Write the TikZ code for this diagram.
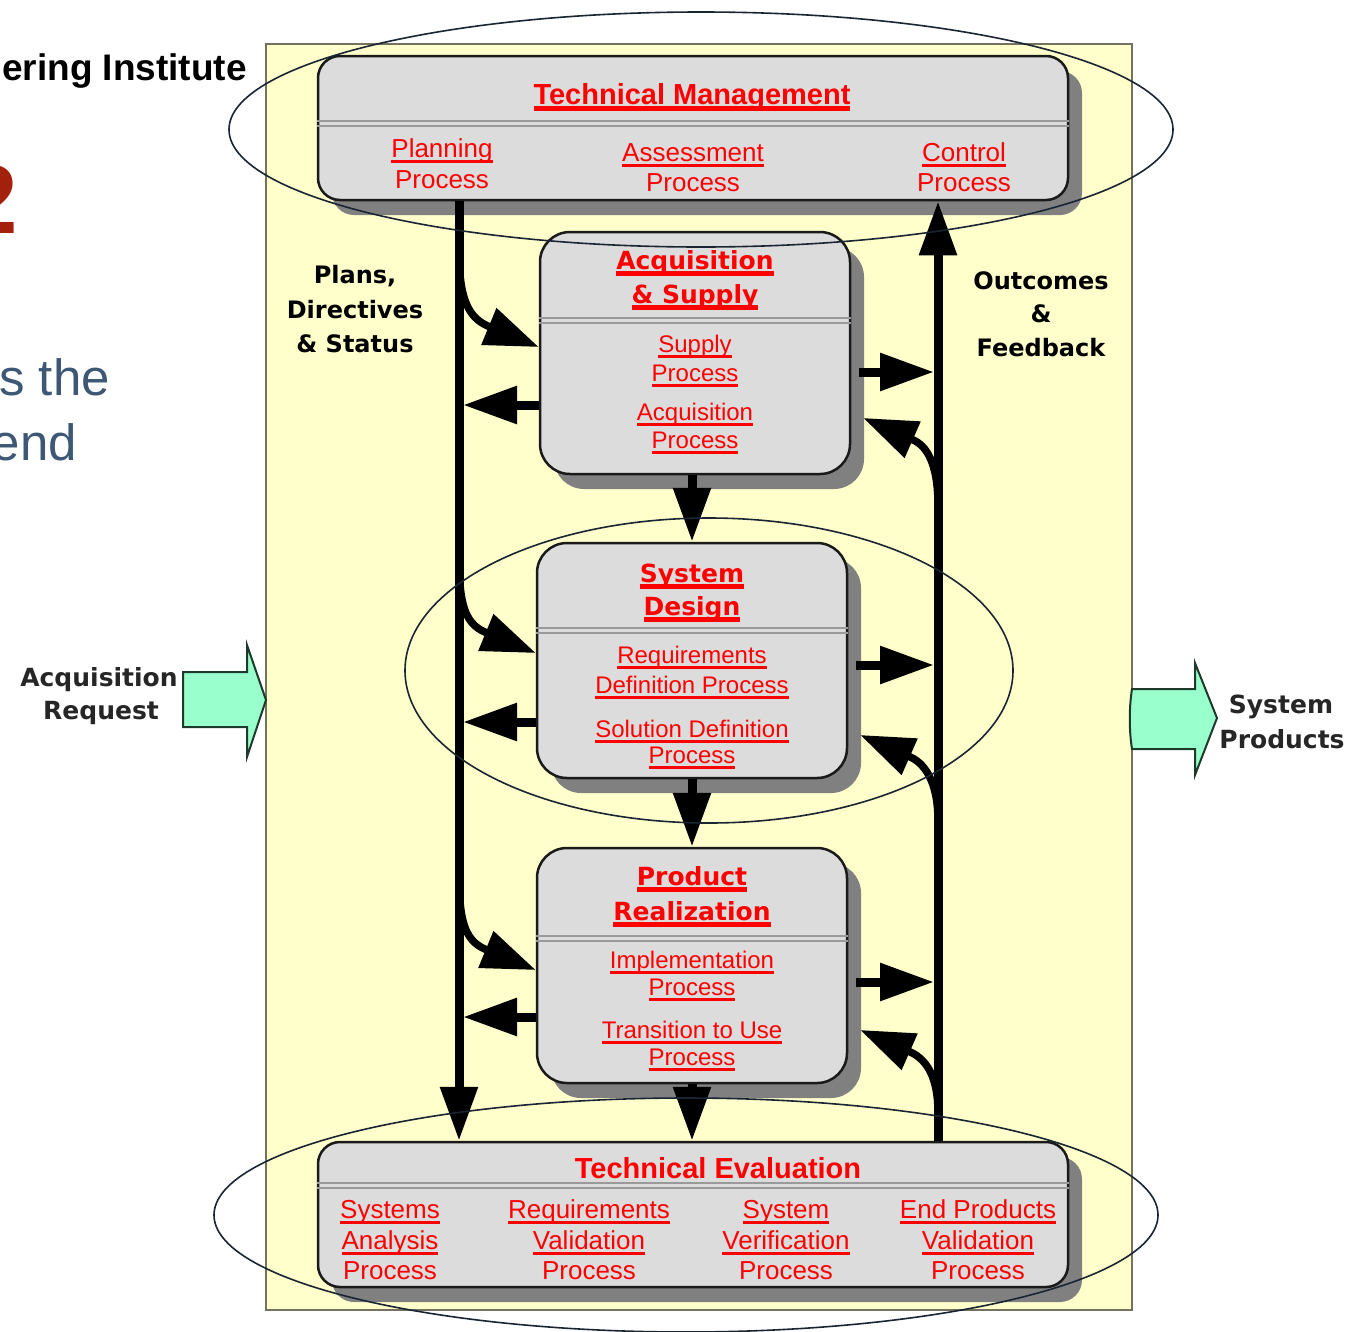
\documentclass[tikz,border=0pt]{standalone}
\usepackage{fontspec}
\setmainfont{Liberation Sans}
\newfontfamily\verd{DejaVu Sans}
\usetikzlibrary{arrows.meta,shadows,calc}
\definecolor{panel}{HTML}{FFFFCC}
\definecolor{panelline}{HTML}{737360}
\definecolor{boxfill}{HTML}{DCDCDC}
\definecolor{boxline}{HTML}{1A1A1A}
\definecolor{shadowgray}{HTML}{808080}
\definecolor{sepgray}{HTML}{9A9A9A}
\definecolor{ellcol}{HTML}{1A2533}
\definecolor{greenfill}{HTML}{99FFCC}
\definecolor{greenline}{HTML}{1E3A2A}
\definecolor{redtxt}{HTML}{FF0000}
\definecolor{slate}{HTML}{3D5875}
\definecolor{rust}{HTML}{A3200C}
\newcommand{\ulS}[1]{\setbox0=\hbox{#1}\rlap{\rule[-6pt]{\wd0}{3.5pt}}\box0}
\newcommand{\ulT}[1]{\setbox0=\hbox{#1}\rlap{\rule[-7pt]{\wd0}{5pt}}\box0}
\begin{document}
\begin{tikzpicture}[x=1pt,y=-1pt,
  panelbox/.style={draw=panelline, line width=2.5pt, fill=panel, inner sep=0pt},
  bigbox/.style={draw=boxline, line width=2.5pt, fill=boxfill, rounded corners=22pt,
     drop shadow={shadow xshift=14pt, shadow yshift=-15pt, fill=shadowgray, opacity=1}, inner sep=0pt},
  midbox/.style={bigbox, rounded corners=30pt},
  sepline/.style={draw=sepgray, line width=2.5pt},
  ttl/.style={inner sep=0pt, anchor=base, text=redtxt, font=\bfseries\fontsize{29}{34}\selectfont},
  vttl/.style={inner sep=0pt, anchor=base, text=redtxt, font=\verd\bfseries\fontsize{25}{30}\selectfont},
  sub/.style={inner sep=0pt, anchor=base, text=redtxt, font=\fontsize{24}{29}\selectfont},
  subL/.style={inner sep=0pt, anchor=base, text=redtxt, font=\fontsize{26}{31}\selectfont},
  lbl/.style={inner sep=0pt, anchor=base, text=black, font=\verd\bfseries\fontsize{24}{29}\selectfont},
  glbl/.style={inner sep=0pt, anchor=base, text=black!85, font=\verd\bfseries\fontsize{25}{30}\selectfont},
  flow/.style={line width=9pt, -{Triangle[length=54pt,width=36pt]}},
  cflow/.style={line width=7.5pt, line join=round, -{Triangle[length=54pt,width=38pt]}},
  ell/.style={draw=ellcol, line width=1.6pt},
  greenarrow/.style={fill=greenfill, draw=greenline, line width=2pt, line join=miter}
]
\clip (0,0) rectangle (1365,1331);
\fill[white] (0,0) rectangle (1365,1331);

% background slide fragments
\node[anchor=base east, inner sep=0pt, font=\bfseries\fontsize{37}{40}\selectfont] (sei) at (247,80) {ering Institute};
\node[anchor=base east, inner sep=0pt, text=rust, font=\bfseries\fontsize{98}{100}\selectfont] (num) at (18,233) {2};
\node[anchor=base east, inner sep=0pt, text=slate, font=\fontsize{51}{60}\selectfont] (bl1) at (110,395) {s the};
\node[anchor=base east, inner sep=0pt, text=slate, font=\fontsize{51}{60}\selectfont] (bl2) at (77,460) {end};

% panel
\node[panelbox, minimum width=866pt, minimum height=1266pt] (panel) at (699,677) {};

% boxes
\node[bigbox, minimum width=750pt, minimum height=144pt] (tm) at (693,128) {};
\node[midbox, minimum width=310pt, minimum height=242pt] (acq) at (695,353) {};
\node[midbox, minimum width=310pt, minimum height=235pt] (sd) at (692,660.5) {};
\node[midbox, minimum width=310pt, minimum height=235pt] (pr) at (692,965.5) {};
\node[bigbox, minimum width=750pt, minimum height=145pt] (te) at (693,1214.5) {};

\foreach \b/\ya/\yb in {tm/121/126, acq/318/323, sd/628/633, pr/936/941, te/1183/1188}{
  \draw[sepline] (\b.west |- 0,\ya) -- (\b.east |- 0,\ya);
  \draw[sepline] (\b.west |- 0,\yb) -- (\b.east |- 0,\yb);
}

% Technical Management
\node[ttl] (tmT) at (692,104) {\ulT{Technical Management}};
\node[subL] (tmP1) at (442,157) {\ulS{Planning}};
\node[subL] (tmP2) at (442,188) {Process};
\node[subL] (tmA1) at (693,161) {\ulS{Assessment}};
\node[subL] (tmA2) at (693,191) {Process};
\node[subL] (tmC1) at (964,161) {\ulS{Control}};
\node[subL] (tmC2) at (964,191) {Process};

% Acquisition & Supply
\node[vttl] (acqT1) at (695,269) {\ulT{Acquisition}};
\node[vttl] (acqT2) at (695,303) {\ulT{\& Supply}};
\node[sub] (acqS1) at (695,352) {\ulS{Supply}};
\node[sub] (acqS2) at (695,381) {\ulS{Process}};
\node[sub] (acqS3) at (695,420) {\ulS{Acquisition}};
\node[sub] (acqS4) at (695,448) {\ulS{Process}};

% System Design
\node[vttl] (sdT1) at (692,582) {\ulT{System}};
\node[vttl] (sdT2) at (692,615) {\ulT{Design}};
\node[sub] (sdS1) at (692,663) {\ulS{Requirements}};
\node[sub] (sdS2) at (692,693) {\ulS{Definition Process}};
\node[sub] (sdS3) at (692,737) {\ulS{Solution Definition}};
\node[sub] (sdS4) at (692,763) {\ulS{Process}};

% Product Realization
\node[vttl] (prT1) at (692,885) {\ulT{Product}};
\node[vttl] (prT2) at (692,920) {\ulT{Realization}};
\node[sub] (prS1) at (692,968) {\ulS{Implementation}};
\node[sub] (prS2) at (692,995) {\ulS{Process}};
\node[sub] (prS3) at (692,1038) {\ulS{Transition to Use}};
\node[sub] (prS4) at (692,1065) {\ulS{Process}};

% Technical Evaluation
\node[ttl] (teT) at (718,1178) {Technical Evaluation};
\node[subL] (te11) at (390,1218) {\ulS{Systems}};
\node[subL] (te12) at (390,1249) {\ulS{Analysis}};
\node[subL] (te13) at (390,1279) {Process};
\node[subL] (te21) at (589,1218) {\ulS{Requirements}};
\node[subL] (te22) at (589,1249) {\ulS{Validation}};
\node[subL] (te23) at (589,1279) {Process};
\node[subL] (te31) at (786,1218) {\ulS{System}};
\node[subL] (te32) at (786,1249) {\ulS{Verification}};
\node[subL] (te33) at (786,1279) {Process};
\node[subL] (te41) at (978,1218) {\ulS{End Products}};
\node[subL] (te42) at (978,1249) {\ulS{Validation}};
\node[subL] (te43) at (978,1279) {Process};

% side labels
\node[lbl] (pl1) at (355,283) {Plans,};
\node[lbl] (pl2) at (355,318) {Directives};
\node[lbl] (pl3) at (355,352) {\& Status};
\node[lbl] (of1) at (1041,289) {Outcomes};
\node[lbl] (of2) at (1041,322) {\&};
\node[lbl] (of3) at (1041,356) {Feedback};

% connectors
\coordinate (lx) at (459,0);
\coordinate (lxe) at (463,0);
\coordinate (rx) at (938,0);
\coordinate (rxw) at (934,0);
\draw[flow] (lx |- tm.south) -- (lx |- te.north);
\draw[flow] (rx |- te.north) -- (rx |- tm.south);

\draw[flow] (sd.north |- acq.south) -- (sd.north);
\draw[flow] (pr.north |- sd.south) -- (pr.north);
\draw[flow] (pr.south) -- (pr.south |- te.north);

% into boxes from left line
\draw[cflow] (lx |- 0,250) .. controls +(0,48) and +(-20,-9) .. ($(acq.west |- 0,347)+(-51,-21)$) -- (acq.west |- 0,347);
\draw[cflow] (lx |- 0,556) .. controls +(0,48) and +(-20,-9) .. ($(sd.west |- 0,653)+(-51,-21)$) -- (sd.west |- 0,653);
\draw[cflow] (lx |- 0,873) .. controls +(0,48) and +(-20,-9) .. ($(pr.west |- 0,970)+(-51,-21)$) -- (pr.west |- 0,970);
% from boxes to left line
\draw[flow] (acq.west |- 0,405) -- (lxe |- 0,405);
\draw[flow] (sd.west |- 0,722) -- (lxe |- 0,722);
\draw[flow] (pr.west |- 0,1017) -- (lxe |- 0,1017);
% from boxes to right line
\draw[flow] ($(acq.east |- 0,372)+(8,0)$) -- (rxw |- 0,372);
\draw[flow] ($(sd.east |- 0,665)+(8,0)$) -- (rxw |- 0,665);
\draw[flow] ($(pr.east |- 0,982)+(8,0)$) -- (rxw |- 0,982);
% from right line into boxes
\draw[cflow] (rx |- 0,505) .. controls +(0,-32) and +(18,8) .. ($(acq.east |- 0,418)+(62,22)$) -- ($(acq.east |- 0,418)+(12,0)$);
\draw[cflow] (rx |- 0,820) .. controls +(0,-32) and +(18,8) .. ($(sd.east |- 0,735)+(62,22)$) -- ($(sd.east |- 0,735)+(12,0)$);
\draw[cflow] (rx |- 0,1112) .. controls +(0,-32) and +(18,8) .. ($(pr.east |- 0,1030)+(62,22)$) -- ($(pr.east |- 0,1030)+(12,0)$);

% green arrows
\draw[greenarrow] (183,672) -- (247,672) -- (247,645) -- (266,700) -- (247,757) -- (247,727) -- (183,727) -- cycle;
\draw[greenarrow] (1132,689) -- (1195,689) -- (1195,663) -- (1217,718) -- (1195,775) -- (1195,749) -- (1132,749) .. controls (1129,730) and (1129,708) .. (1132,689) -- cycle;
\node[glbl] (ar1) at (99,686) {Acquisition};
\node[glbl] (ar2) at (101,719) {Request};
\node[glbl] (sp1) at (1281,713) {System};
\node[glbl] (sp2) at (1282,748) {Products};

% highlight ellipses
\draw[ell] (701,129.5) ellipse [x radius=472pt, y radius=117.5pt];
\draw[ell] (709,670.5) ellipse [x radius=304pt, y radius=152.5pt];
\draw[ell] (686,1215) ellipse [x radius=472pt, y radius=117pt];
\end{tikzpicture}
\end{document}
